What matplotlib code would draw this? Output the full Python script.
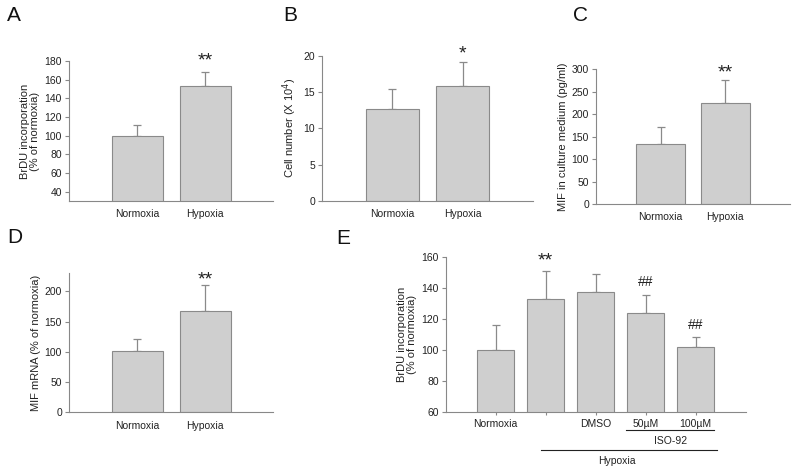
import numpy as np
import matplotlib
matplotlib.use("Agg")
import matplotlib.pyplot as plt

plt.rcParams['font.family'] = ['Liberation Sans', 'DejaVu Sans']

# data
labels_2 = ["Normoxia", "Hypoxia"]
brdu_mean = [100, 153]
brdu_err = [11, 15]
cell_mean = [12.6, 15.8]
cell_err = [2.8, 3.3]
mif_medium_mean = [134, 224]
mif_medium_err = [38, 51]
mif_mrna_mean = [102, 167]
mif_mrna_err = [20, 44]

labels_e = ["Normoxia", "", "DMSO", "50µM", "100µM"]
brdu_e_mean = [100, 133, 137.5, 123.5, 101.5]
brdu_e_err = [16, 18, 11.5, 12, 6.5]
marks_e = ["", "**", "", "##", "##"]

W, H = 796, 474
fig = plt.figure(figsize=(W / 100, H / 100), dpi=100)

BAR = '#cfcfcf'
EDGE = '#8a8a8a'
AX = '#888888'
TXT = '#222222'


def make_ax(l, r, t, b):
    return fig.add_axes([l / W, 1 - b / H, (r - l) / W, (b - t) / H])


def bars(ax, names, mean, err, ylim, yticks, ylabel, marks, gap, xticks=False):
    x = np.arange(1, len(mean) + 1)
    ax.bar(x, mean, width=0.75, color=BAR, edgecolor=EDGE, linewidth=0.8, zorder=2)
    ax.errorbar(x, mean, yerr=[np.zeros(len(err)), err], fmt='none',
                ecolor=EDGE, elinewidth=0.9, capsize=3, capthick=0.9, zorder=1)
    ax.set_xlim(0, len(mean) + 1)
    ax.set_ylim(*ylim)
    ax.set_yticks(yticks)
    ax.set_xticks(x)
    ax.set_xticklabels(names, fontsize=7.5, color=TXT)
    ax.tick_params(axis='y', labelsize=7.5, colors=AX, labelcolor=TXT,
                   length=3, width=0.8, pad=2)
    if xticks:
        ax.tick_params(axis='x', length=2, colors=AX, labelcolor=TXT, width=0.8, pad=3.5)
    else:
        ax.tick_params(axis='x', length=0, labelcolor=TXT, pad=6)
    for s in ['top', 'right']:
        ax.spines[s].set_visible(False)
    for s in ['left', 'bottom']:
        ax.spines[s].set_color(AX)
        ax.spines[s].set_linewidth(0.8)
    ax.set_ylabel(ylabel, fontsize=8, color=TXT, labelpad=3, linespacing=1.0)
    for xi, m, e, mk, g in zip(x, mean, err, marks, gap):
        if mk:
            fs = 14 if mk.startswith('*') else 10
            ax.annotate(mk, xy=(xi, m + e), xytext=(0, g * 0.72), textcoords='offset points',
                        ha='center', va='baseline', fontsize=fs, color=TXT,
                        annotation_clip=False)


axA = make_ax(69, 273, 61, 201)
bars(axA, labels_2, brdu_mean, brdu_err, (30, 180), range(40, 181, 20),
     "BrDU incorporation\n(% of normoxia)", ["", "**"], [0, 7])

axB = make_ax(322, 533, 55.7, 201)
bars(axB, labels_2, cell_mean, cell_err, (0, 20), range(0, 21, 5),
     "Cell number (X 10$^4$)", ["", "*"], [0, 4])

axC = make_ax(596, 790, 69, 204)
bars(axC, labels_2, mif_medium_mean, mif_medium_err, (0, 300), range(0, 301, 50),
     "MIF in culture medium (pg/ml)", ["", "**"], [0, 3])

axD = make_ax(69, 273, 273.3, 412.3)
bars(axD, labels_2, mif_mrna_mean, mif_mrna_err, (0, 230), range(0, 201, 50),
     "MIF mRNA (% of normoxia)", ["", "**"], [0, 0])

axE = make_ax(445.7, 745.7, 257, 411.7)
bars(axE, labels_e, brdu_e_mean, brdu_e_err, (60, 160), range(60, 161, 20),
     "BrDU incorporation\n(% of normoxia)", marks_e, [0, 5, 0, 9, 8], xticks=True)

# group brackets under panel E
tr = axE.get_xaxis_transform()
axE.plot([3.6, 5.37], [-0.118, -0.118], transform=tr, color=TXT, lw=0.8, clip_on=False)
axE.text(4.49, -0.187, "ISO-92", transform=tr, ha='center', va='center', fontsize=7.5, color=TXT)
axE.plot([1.9, 5.42], [-0.248, -0.248], transform=tr, color=TXT, lw=0.8, clip_on=False)
axE.text(3.43, -0.317, "Hypoxia", transform=tr, ha='center', va='center', fontsize=7.5, color=TXT)

# panel letters
for letter, px, py in [("A", 7, 6), ("B", 283, 6), ("C", 573, 6), ("D", 7, 228), ("E", 336, 229)]:
    fig.text(px / W, 1 - py / H, letter, fontsize=15, va='top', ha='left', color='#111111')

fig.savefig("out.png", dpi=100)
